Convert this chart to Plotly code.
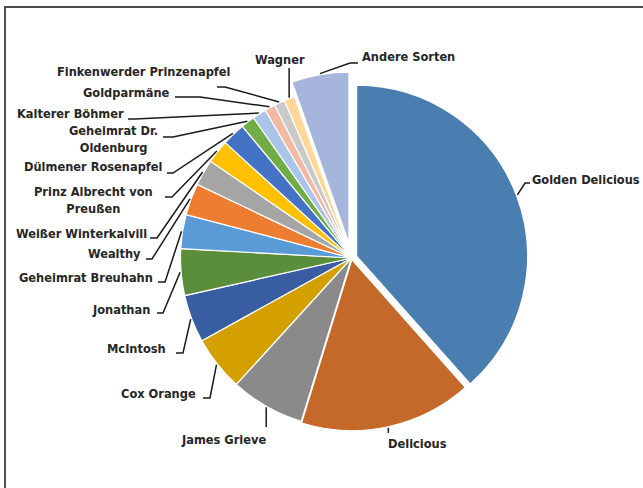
import math
import plotly.graph_objects as go

# ---------------- data ----------------
sorten = [
    "Golden Delicious", "Delicious", "James Grieve", "Cox Orange", "McIntosh",
    "Jonathan", "Geheimrat Breuhahn", "Wealthy", "Weißer Winterkalvill",
    "Prinz Albrecht von Preußen", "Dülmener Rosenapfel", "Geheimrat Dr. Oldenburg",
    "Kalterer Böhmer", "Goldparmäne", "Finkenwerder Prinzenapfel", "Wagner",
    "Andere Sorten",
]
anteile = [38.4, 16.3, 7.0, 5.2, 4.5, 4.4, 3.2, 3.0, 2.5, 2.2, 2.2, 1.3, 1.3,
           1.0, 1.0, 1.0, 5.4]
beschriftung = [
    "Golden Delicious", "Delicious", "James Grieve", "Cox Orange", "McIntosh",
    "Jonathan", "Geheimrat Breuhahn", "Wealthy", "Weißer Winterkalvill",
    "Prinz Albrecht von<br>Preußen", "Dülmener Rosenapfel", "Geheimrat Dr.<br>Oldenburg",
    "Kalterer Böhmer", "Goldparmäne", "Finkenwerder Prinzenapfel", "Wagner",
    "Andere Sorten",
]

# ---------------- styles ----------------
farben = ["#4A7EB1", "#C5692A", "#898A89", "#D4A000", "#385EA1", "#5B8E3B",
          "#5B9BD5", "#ED7D31", "#A5A5A5", "#FFC000", "#4472C4", "#70AD47",
          "#A9C5E8", "#F4B9A3", "#C9C9C9", "#FFD899", "#A5B5DC"]
pulls = [0.032, 0.01, 0, 0, 0, 0, 0, 0, 0, 0, 0, 0, 0, 0, 0, 0, 0.088]

W, H = 643, 488
CX, CY, R = 351.5, 258.0, 171.0   # pie centre / radius in pixels
FONT = dict(family="DejaVu Sans Condensed, Liberation Sans Narrow, sans-serif",
            size=12.7, color="#262626", weight="bold")

# label placement (pixels): text x, text y, anchor, leader points after the slice edge
label_pos = [
    (530, 179, "left",   [(525, 183), (530, 183)]),
    (386, 443, "left",   [(None, 433)]),
    (268, 439, "right",  [(None, 427)]),
    (198, 393, "right",  [(210, 398), (203, 398)]),
    (168, 348, "right",  [(183, 353), (176, 353)]),
    (152, 309, "right",  [(163, 313), (157, 313)]),
    (155, 277, "right",  [(165, 282), (158, 282)]),
    (143, 253, "right",  [(152, 259), (146, 259)]),
    (149, 233, "right",  [(157, 238), (150, 238)]),
    (155, 200, "right",  [(172, 197), (165, 197)]),
    (164, 167, "right",  [(173, 173), (167, 173)]),
    (160, 139, "right",  [(173, 137), (163, 137)]),
    (126, 113, "right",  [(135, 119), (128, 119)]),
    (172, 92,  "right",  [(200, 97), (175, 97)]),
    (232, 72,  "right",  [(225, 87), (217, 87)]),
    (280, 59,  "center", [(None, 68)]),
    (360, 57,  "left",   [(350, 63), (358, 63)]),
]


def px(x, y):
    return x / W, 1 - y / H


max_pull = max(pulls)
half = R * (1 + max_pull)
dom_x = [(CX - half) / W, (CX + half) / W]
dom_y = [(H - CY - half) / H, (H - CY + half) / H]

fig = go.Figure()
fig.add_trace(go.Pie(
    labels=sorten, values=anteile, sort=False, direction="clockwise", rotation=0,
    pull=pulls, textinfo="none", hoverinfo="label+percent", showlegend=False,
    marker=dict(colors=farben, line=dict(color="white", width=1.2)),
    domain=dict(x=dom_x, y=dom_y),
))

# leader lines + labels, start points derived from the data angles
total = sum(anteile)
cum = 0.0
shapes = []
annotations = []
for name, val, p, (tx, ty, anc, pts) in zip(beschriftung, anteile, pulls, label_pos):
    mid = (cum + val / 2) / total * 2 * math.pi
    cum += val
    dx, dy = math.sin(mid), -math.cos(mid)
    dist = R * (1 + p) + 1
    sx, sy = CX + dist * dx, CY + dist * dy
    path_pts = [(sx, sy)]
    for (ex, ey) in pts:
        path_pts.append((sx if ex is None else ex, ey))
    d = ""
    for i, (x, y) in enumerate(path_pts):
        u, v = px(x, y)
        d += ("M" if i == 0 else " L") + f"{u:.5f},{v:.5f}"
    shapes.append(dict(type="path", path=d, xref="paper", yref="paper",
                       line=dict(color="#1a1a1a", width=1.5), layer="above"))
    u, v = px(tx, ty)
    annotations.append(dict(text=name, x=u, y=v, xref="paper", yref="paper",
                            xanchor=anc, yanchor="middle", showarrow=False,
                            align="center", font=FONT))

# chart frame
x0, y0 = px(5, 7)
x1, y1 = px(W + 10, H + 10)
shapes.append(dict(type="rect", xref="paper", yref="paper", x0=x0, y0=y0, x1=x1, y1=y1,
                   line=dict(color="#4d4d4d", width=2), layer="above"))

fig.update_layout(
    width=W, height=H, margin=dict(l=0, r=0, t=0, b=0),
    paper_bgcolor="white", plot_bgcolor="white",
    shapes=shapes, annotations=annotations,
)
fig.write_html("out.html", config={"displayModeBar": False},
               post_script="document.body.style.margin='0';document.body.style.overflow='hidden';")
